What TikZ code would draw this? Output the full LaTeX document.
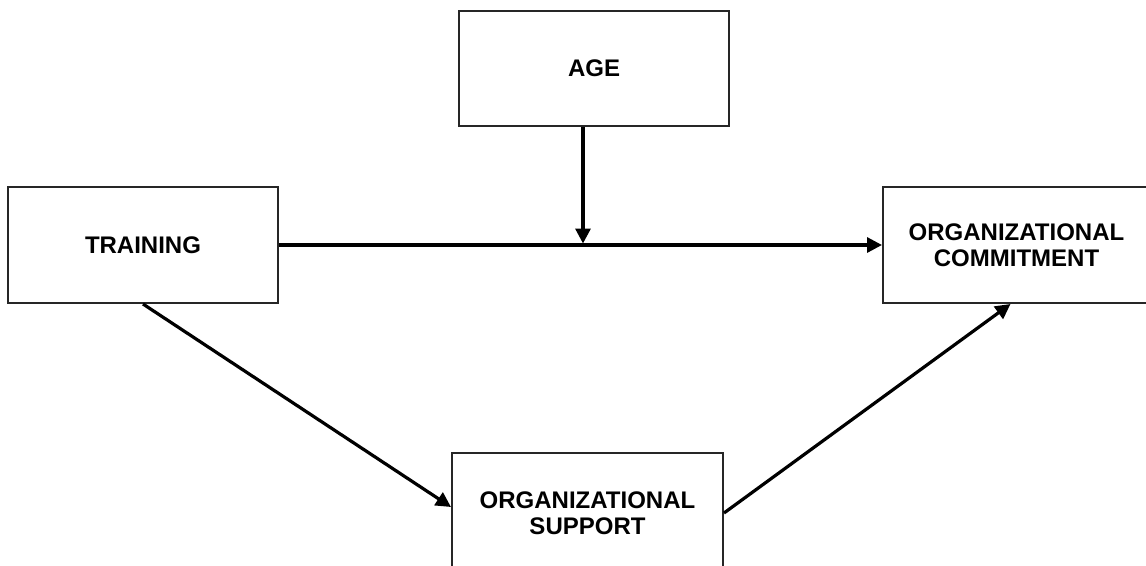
\documentclass[tikz,border=0pt]{standalone}
\usepackage{fontspec}
\setmainfont{Liberation Sans}
\usetikzlibrary{arrows.meta}
\begin{document}
\begin{tikzpicture}[x=1pt,y=-1pt,
  box/.style={draw=black!85,line width=2pt,inner sep=0pt,align=center,
    font=\fontsize{24}{26}\selectfont\bfseries},
  arr/.style={line width=3.2pt,-{Triangle[length=15pt,width=15pt]}}]
\useasboundingbox (0,0) rectangle (1146,565);
\node[box,minimum width=270pt,minimum height=115pt] (age) at (594,68.5) {AGE};
\node[box,minimum width=270pt,minimum height=116pt] (training) at (143,245) {TRAINING};
\node[box,minimum width=267pt,minimum height=116pt] (commit) at (1016.5,245) {ORGANIZATIONAL\\COMMITMENT};
\node[box,minimum width=271pt,minimum height=120pt] (support) at (587.5,513) {ORGANIZATIONAL\\SUPPORT};
\coordinate (j) at (583,245);
\draw[arr] (training.east) -- (commit.west);
\draw[arr] (age.south -| j) -- ([yshift=1.5pt]j);
\draw[arr] (training.south) -- ([yshift=6pt]support.west);
\draw[arr] (support.east) -- ([xshift=-6pt]commit.south);
\end{tikzpicture}
\end{document}
